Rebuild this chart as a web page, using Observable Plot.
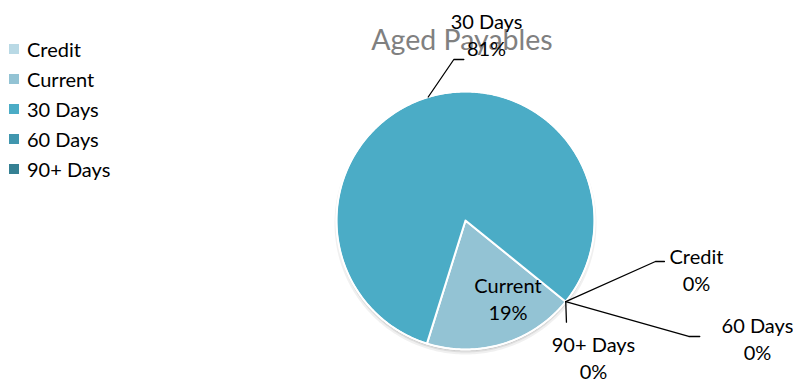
<!DOCTYPE html>
<html><head><meta charset="utf-8">
<script src="https://cdn.jsdelivr.net/npm/d3@7"></script>
<script src="https://cdn.jsdelivr.net/npm/@observablehq/plot@0.6"></script>
<style>
html,body{margin:0;padding:0;background:#fff;}
#chart{position:relative;width:793px;height:379px;overflow:hidden;font-family:Lato,sans-serif;}
#chart svg{position:absolute;left:0;top:0;}
#title{position:absolute;left:0;top:25px;width:924px;text-align:center;color:#808080;font-size:28.5px;line-height:28px;white-space:nowrap;}
#legend{position:absolute;left:9px;top:34px;}
.row{display:flex;align-items:center;height:30px;line-height:30px;font-size:20px;color:#000;}
.sw{width:10px;height:10px;margin-right:8px;}
</style></head><body>
<div id="chart"><div id="title"></div><div id="legend"></div></div>
<script>
// ---- data ----
const categories = ["Credit", "Current", "30 Days", "60 Days", "90+ Days"];
const shares = [0, 19, 81, 0, 0];            // percent
const colors = ["#b9d9e5", "#93c3d4", "#4bacc6", "#4096ae", "#358093"];
const chartTitle = "Aged Payables";

// ---- layout (pixels) ----
const R = 129;               // pie radius in px
const startDeg = 129;        // first slice angle, clockwise from 12 o'clock
// label block centre offset and leader-line elbow/end offsets relative to slice anchor (px, y down)
const labelLayout = {
  "Credit":   {text: [130.7, -32.7], leader: [[89.7, -40.2], [98.7, -40.2]]},
  "Current":  {text: [5.2, -46],     leader: null},
  "30 Days":  {text: [58.3, -63.5],  leader: [[25.6, -37.5], [35.6, -37.5]]},
  "60 Days":  {text: [191.7, 35.8],  leader: [[123, 34.8], [134, 34.8]]},
  "90+ Days": {text: [27.7, 54.8],   leader: [[0.7, 20.5]]}
};

const table = categories.map((c, i) => ({category: c, value: shares[i]}));
const a0 = startDeg * Math.PI / 180;
const arcs = d3.pie().sort(null).value(d => d.value).startAngle(a0).endAngle(a0 + 2 * Math.PI)(table);

// polygon points for each slice (unit circle, y up)
const polys = [];
for (const a of arcs) {
  if (a.endAngle - a.startAngle <= 0) continue;
  const n = Math.max(2, Math.ceil((a.endAngle - a.startAngle) / 0.01));
  polys.push({k: a.data.category, x: 0, y: 0});
  for (let j = 0; j <= n; j++) {
    const t = a.startAngle + (a.endAngle - a.startAngle) * j / n;
    polys.push({k: a.data.category, x: Math.sin(t), y: Math.cos(t)});
  }
}
const circle = d3.range(0, 361).map(d => ({x: Math.sin(d * Math.PI / 180), y: Math.cos(d * Math.PI / 180)}));

// labels & leader lines
const labels = [], leaders = [];
for (const a of arcs) {
  const c = a.data.category, L = labelLayout[c];
  const m = (a.startAngle + a.endAngle) / 2;
  const ax = Math.sin(m), ay = Math.cos(m);
  labels.push({x: ax + L.text[0] / R, y: ay - L.text[1] / R, text: `${c}\n${Math.round(a.data.value)}%`});
  if (L.leader) {
    leaders.push({k: c, x: ax, y: ay});
    for (const p of L.leader) leaders.push({k: c, x: ax + p[0] / R, y: ay - p[1] / R});
  }
}

const cx = 465, cy = 220;
const plot = Plot.plot({
  width: 793, height: 379,
  marginLeft: cx - R, marginRight: 793 - (cx + R),
  marginTop: cy - R, marginBottom: 379 - (cy + R),
  x: {domain: [-1, 1], axis: null},
  y: {domain: [-1, 1], axis: null},
  color: {domain: categories, range: colors},
  style: {fontFamily: "Lato, sans-serif", background: "transparent", overflow: "visible"},
  marks: [
    Plot.line(circle, {x: "x", y: "y", dy: 3, fill: "#000", fillOpacity: 0.08, stroke: "#000", strokeOpacity: 0.06, strokeWidth: 4, curve: "linear-closed"}),
    Plot.line(circle, {x: "x", y: "y", dy: 1.5, fill: "#000", fillOpacity: 0.12, stroke: "none", curve: "linear-closed"}),
    Plot.line(polys, {x: "x", y: "y", z: "k", fill: "k", stroke: "white", strokeWidth: 2, strokeLinejoin: "round", curve: "linear-closed"}),
    Plot.line(circle, {x: "x", y: "y", stroke: "#fff", strokeWidth: 1.5, curve: "linear-closed"}),
    Plot.line(leaders, {x: "x", y: "y", z: "k", stroke: "#000", strokeWidth: 1.3}),
    Plot.text(labels, {x: "x", y: "y", text: "text", fontSize: 20, lineHeight: 1.36, lineAnchor: "middle", textAnchor: "middle", fill: "#000"})
  ]
});
document.getElementById("chart").appendChild(plot);
document.getElementById("title").textContent = chartTitle;

const leg = document.getElementById("legend");
categories.forEach((c, i) => {
  const row = document.createElement("div"); row.className = "row";
  const sw = document.createElement("span"); sw.className = "sw"; sw.style.background = colors[i];
  const tx = document.createElement("span"); tx.textContent = c;
  row.appendChild(sw); row.appendChild(tx); leg.appendChild(row);
});
</script>
</body></html>
